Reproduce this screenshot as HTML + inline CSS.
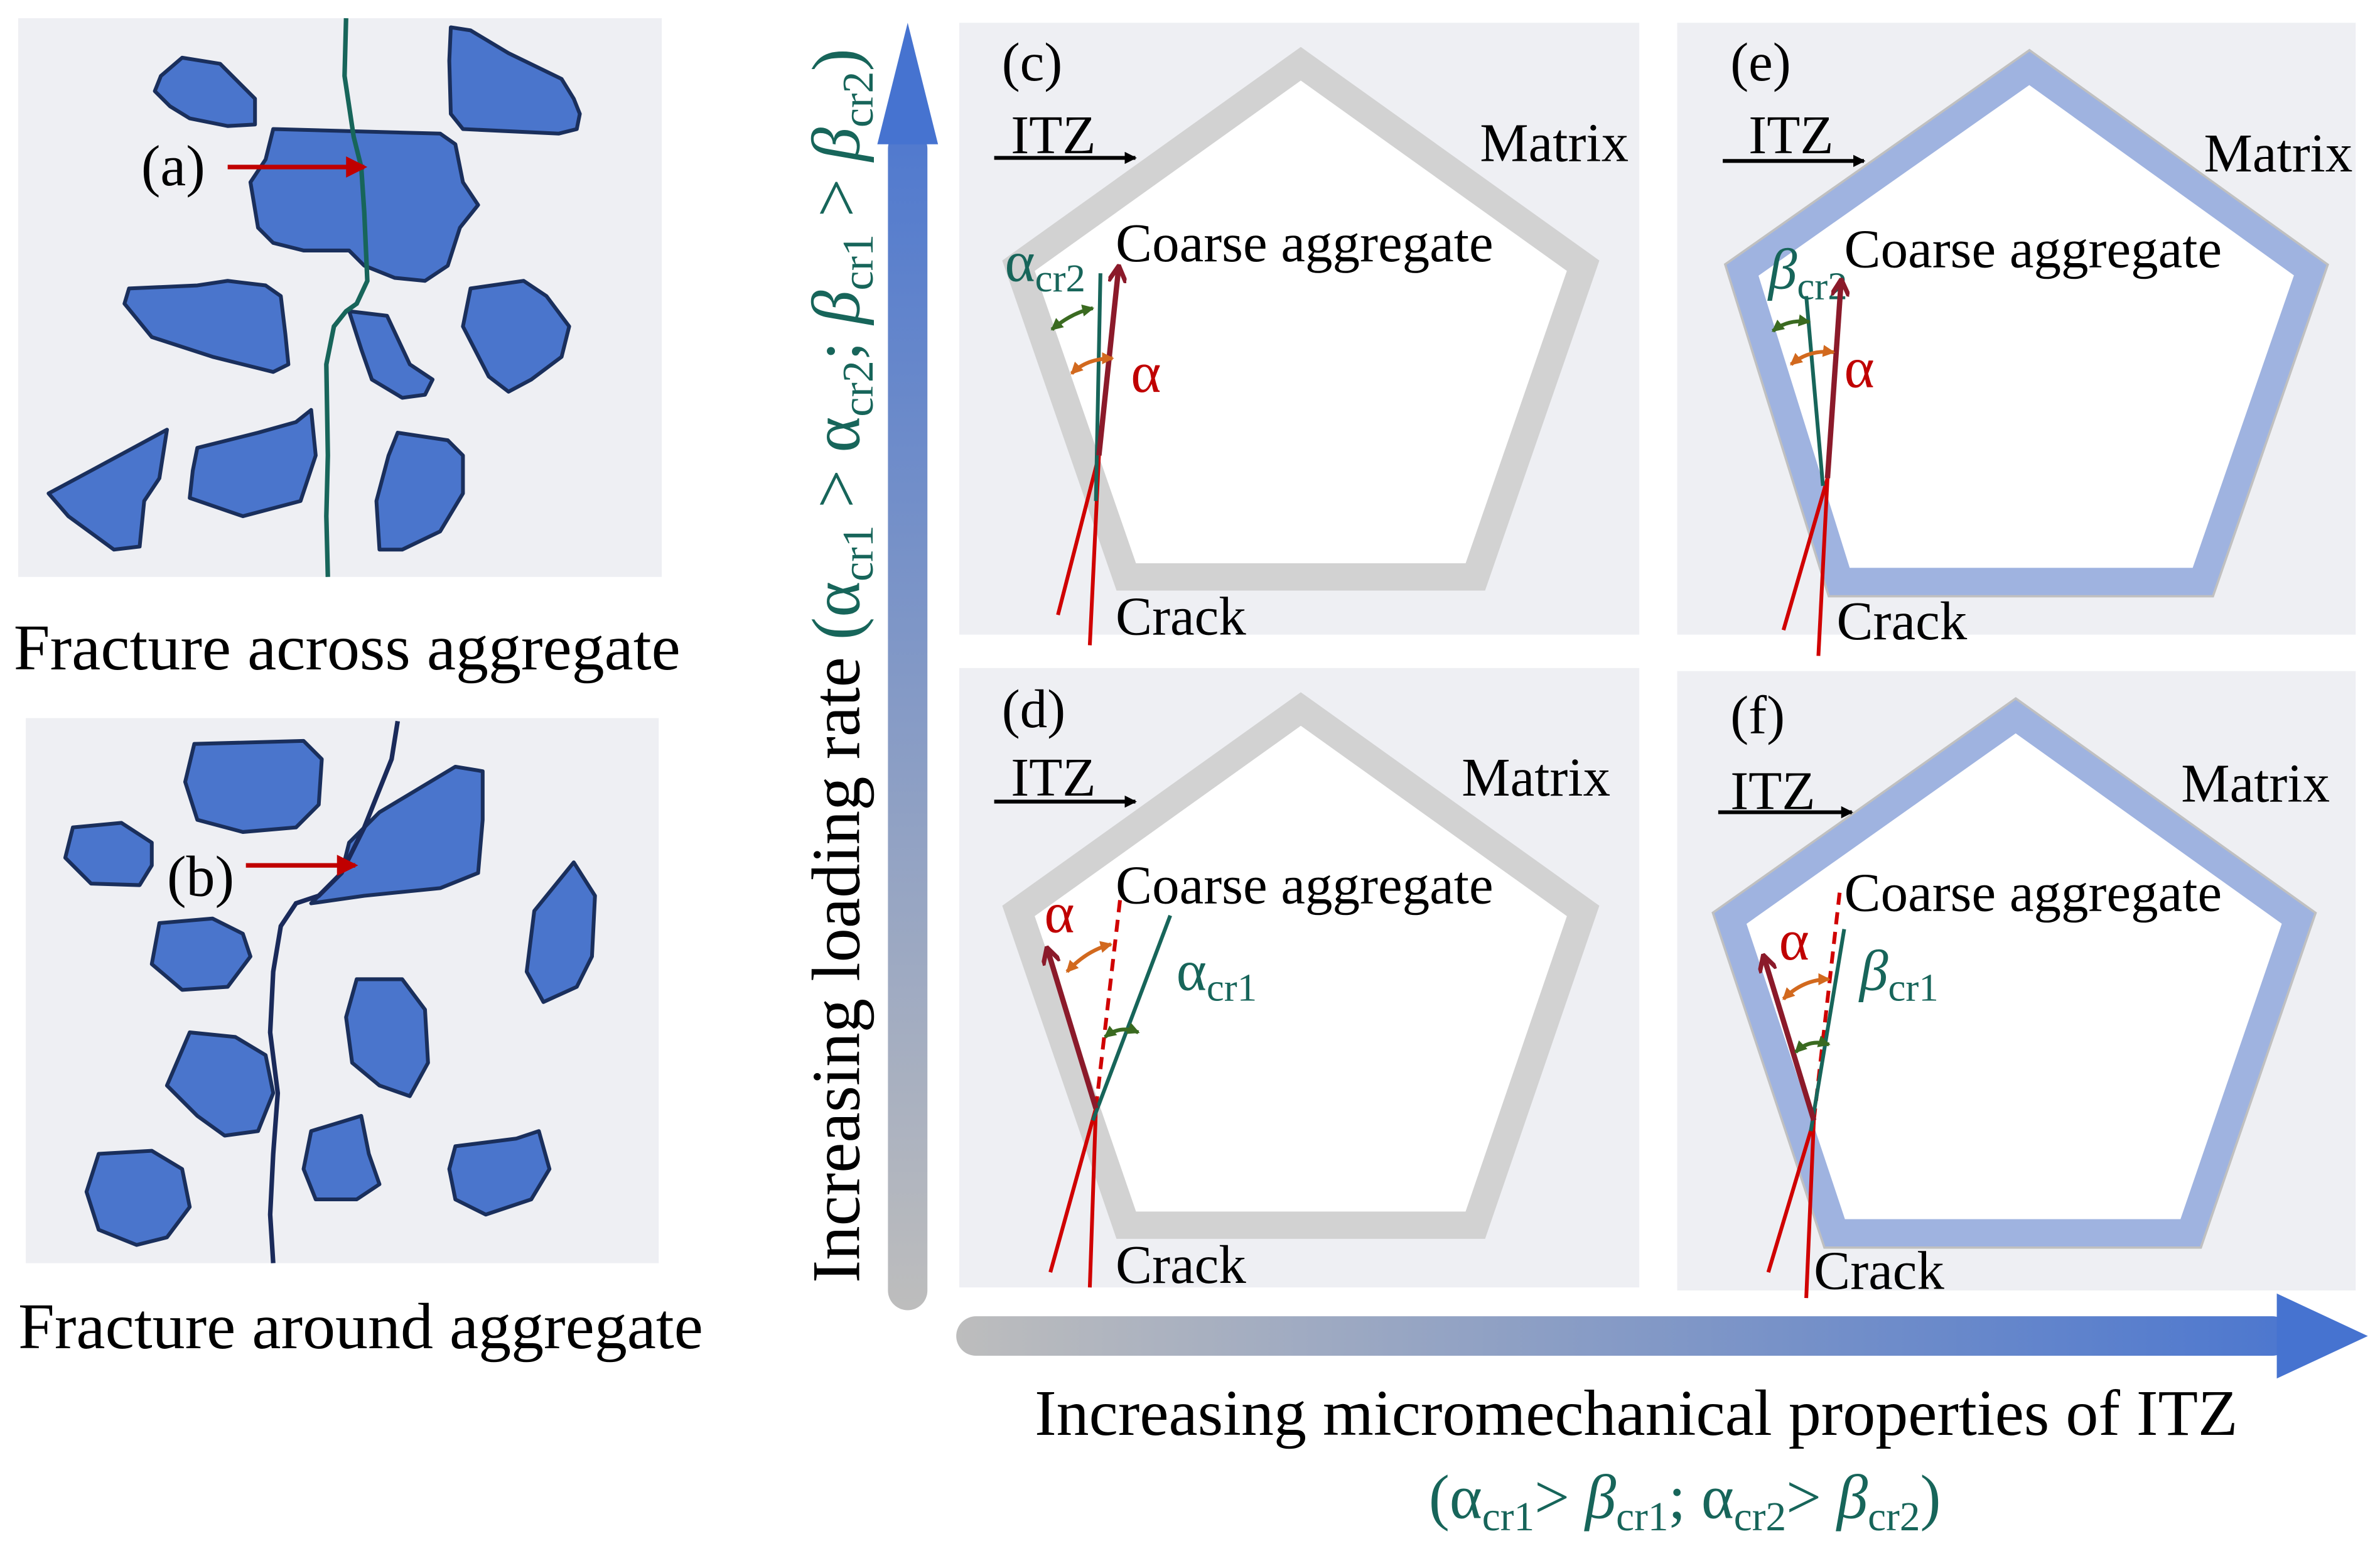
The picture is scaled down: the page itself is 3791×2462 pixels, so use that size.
<!DOCTYPE html>
<html><head><meta charset="utf-8"><style>
html,body{margin:0;padding:0;background:#fff}
svg{display:block}
text{font-family:"Liberation Serif",serif}
</style></head><body>
<svg width="3791" height="2462" viewBox="0 0 1568 1018.3" xmlns="http://www.w3.org/2000/svg">
<defs>
<linearGradient id="gv" gradientUnits="userSpaceOnUse" x1="0" y1="860" x2="0" y2="15"><stop offset="0" stop-color="#bdbdbd"/><stop offset="1" stop-color="#4673d0"/></linearGradient>
<linearGradient id="gh" gradientUnits="userSpaceOnUse" x1="630" y1="0" x2="1560" y2="0"><stop offset="0" stop-color="#bdbdbd"/><stop offset="1" stop-color="#4673d0"/></linearGradient>
<marker id="ab" markerWidth="8" markerHeight="8" refX="7" refY="4" orient="auto" markerUnits="userSpaceOnUse"><path d="M0,0 L8,4 L0,8z" fill="#000"/></marker>
<marker id="ar" markerWidth="14" markerHeight="14" refX="12" refY="7" orient="auto" markerUnits="userSpaceOnUse"><path d="M0,0 L14,7 L0,14z" fill="#c00000"/></marker>
<marker id="adr" markerWidth="12" markerHeight="12" refX="10" refY="6" orient="auto" markerUnits="userSpaceOnUse"><path d="M0,0 L11,6 L0,12" fill="none" stroke="#8b1a2a" stroke-width="3"/></marker>
<marker id="ag" markerWidth="8" markerHeight="8" refX="7" refY="4" orient="auto-start-reverse" markerUnits="userSpaceOnUse"><path d="M0,0 L8,4 L0,8z" fill="#3a6a20"/></marker>
<marker id="ao" markerWidth="8" markerHeight="8" refX="7" refY="4" orient="auto-start-reverse" markerUnits="userSpaceOnUse"><path d="M0,0 L8,4 L0,8z" fill="#d2691e"/></marker>
</defs>

<!-- Panel a -->
<rect x="12" y="12" width="424" height="368" fill="#eeeff3"/>
<g fill="#4a75cc" stroke="#1a2f5c" stroke-width="2.5" stroke-linejoin="round">
<polygon points="120,38 145,42 158,55 168,65 168,82 150,83 125,78 112,70 102,60 106,50"/>
<polygon points="297,18 310,20 335,35 370,52 378,65 382,75 380,85 368,88 305,85 297,75 296,40"/>
<polygon points="180,85 290,88 300,95 305,120 315,135 303,150 295,175 280,185 260,183 240,175 230,165 200,165 180,160 170,150 165,120 175,105"/>
<polygon points="85,190 130,188 150,185 175,188 185,195 188,220 190,240 180,245 140,235 100,222 82,200"/>
<polygon points="230,205 255,208 270,240 285,250 280,260 265,262 245,250 238,230"/>
<polygon points="310,190 345,185 360,195 375,215 370,235 350,250 335,258 322,248 305,215"/>
<polygon points="32,325 60,310 110,283 105,315 95,330 92,360 75,362 45,340"/>
<polygon points="130,295 170,285 195,278 205,270 208,300 198,330 160,340 125,328 127,310"/>
<polygon points="262,285 295,290 305,300 305,325 290,350 265,362 250,362 248,330 256,300"/>
</g>
<path d="M228,12 L227,50 L233,90 L238,110 L240,140 L242,185 L235,200 L228,205 L220,215 L215,240 L216,300 L215,340 L216,380" fill="none" stroke="#17655a" stroke-width="3"/>
<text x="93" y="122" font-size="38">(a)</text>
<line x1="150" y1="110" x2="240" y2="110" stroke="#c00000" stroke-width="3" marker-end="url(#ar)"/>
<text x="9" y="441" font-size="43">Fracture across aggregate</text>

<!-- Panel b -->
<rect x="17" y="473" width="417" height="359" fill="#eeeff3"/>
<g fill="#4a75cc" stroke="#1a2f5c" stroke-width="2.5" stroke-linejoin="round">
<polygon points="128,490 200,488 212,500 210,530 195,545 160,548 130,540 122,515"/>
<polygon points="48,545 80,542 100,555 100,570 92,583 60,582 43,565"/>
<polygon points="230,555 250,535 300,505 318,508 318,540 315,575 290,585 240,590 205,595 225,575"/>
<polygon points="105,608 140,605 160,615 165,630 150,650 120,652 100,635"/>
<polygon points="378,568 392,590 390,630 380,650 358,660 347,640 352,600"/>
<polygon points="235,645 265,645 280,665 282,700 270,722 250,715 232,700 228,670"/>
<polygon points="125,680 155,683 175,695 180,720 170,745 148,748 130,735 110,715"/>
<polygon points="205,745 238,735 243,760 250,780 235,790 208,790 200,770"/>
<polygon points="300,755 340,750 355,745 362,770 350,790 320,800 300,790 296,770"/>
<polygon points="65,760 100,758 120,770 125,795 110,815 90,820 65,810 57,785"/>
</g>
<path d="M262,475 L258,500 L250,520 L240,545 L225,575 L210,590 L195,595 L185,610 L180,640 L178,680 L183,720 L180,760 L178,800 L180,832" fill="none" stroke="#1a2a5a" stroke-width="3"/>
<text x="110" y="590" font-size="38">(b)</text>
<line x1="162" y1="570" x2="234" y2="570" stroke="#c00000" stroke-width="3" marker-end="url(#ar)"/>
<text x="12" y="888" font-size="43">Fracture around aggregate</text>

<!-- Axes arrows -->
<rect x="585" y="85" width="26" height="778" rx="13" fill="url(#gv)"/>
<polygon points="598,15 618,95 578,95" fill="#4673d0"/>
<rect x="630" y="867" width="880" height="26" rx="13" fill="url(#gh)"/>
<polygon points="1560,880 1500,852 1500,908" fill="#4673d0"/>

<text transform="translate(566,845) rotate(-90)" font-size="45">Increasing loading rate <tspan fill="#17655a">(α<tspan font-size="29" dy="9">cr1</tspan><tspan dy="-9"> &gt; α</tspan><tspan font-size="29" dy="9">cr2</tspan><tspan dy="-9">; </tspan><tspan font-style="italic">β</tspan><tspan font-size="29" dy="9">cr1</tspan><tspan dy="-9"> &gt; </tspan><tspan font-style="italic">β</tspan><tspan font-size="29" dy="9">cr2</tspan><tspan dy="-9">)</tspan></tspan></text>
<text x="1078" y="945" font-size="43" text-anchor="middle">Increasing micromechanical properties of ITZ</text>
<text x="1110" y="1000" font-size="41" text-anchor="middle" fill="#17655a">(α<tspan font-size="27" dy="8">cr1</tspan><tspan dy="-8">&gt; </tspan><tspan font-style="italic">β</tspan><tspan font-size="27" dy="8">cr1</tspan><tspan dy="-8">; α</tspan><tspan font-size="27" dy="8">cr2</tspan><tspan dy="-8">&gt; </tspan><tspan font-style="italic">β</tspan><tspan font-size="27" dy="8">cr2</tspan><tspan dy="-8">)</tspan></text>

<!-- Panel c -->
<rect x="632" y="15" width="448" height="403" fill="#eeeff3"/>
<polygon points="857,42 1043,175 972,380 742,380 671,175" fill="#fff" stroke="#d2d2d2" stroke-width="18"/>
<text x="660" y="53" font-size="36">(c)</text>
<text x="666" y="101" font-size="36">ITZ</text>
<line x1="655" y1="104" x2="748" y2="104" stroke="#000" stroke-width="2.5" marker-end="url(#ab)"/>
<text x="975" y="106" font-size="36">Matrix</text>
<text x="735" y="172" font-size="36">Coarse aggregate</text>
<text x="735" y="418" font-size="36">Crack</text>
<text x="662" y="185" font-size="38" fill="#17655a">α<tspan font-size="26" dy="7">cr2</tspan></text>
<text x="745" y="258" font-size="38" fill="#c00000">α</text>
<line x1="724" y1="300" x2="697" y2="405" stroke="#d00000" stroke-width="2.5"/>
<line x1="724" y1="300" x2="718" y2="425" stroke="#d00000" stroke-width="2.5"/>
<line x1="722" y1="330" x2="725" y2="180" stroke="#17655a" stroke-width="2.5"/>
<line x1="724" y1="300" x2="737" y2="176" stroke="#8b1a2a" stroke-width="3.5" marker-end="url(#adr)"/>
<path d="M693,217 Q706,206 720,203" fill="none" stroke="#3a6a20" stroke-width="2.5" marker-start="url(#ag)" marker-end="url(#ag)"/>
<path d="M706,246 Q716,236 733,236" fill="none" stroke="#d2691e" stroke-width="2.5" marker-start="url(#ao)" marker-end="url(#ao)"/>

<!-- Panel e -->
<rect x="1105" y="15" width="447" height="403" fill="#eeeff3"/>
<polygon points="1337,45 1522,178 1451,383 1212,383 1148,178" fill="none" stroke="#c0c0c0" stroke-width="21"/>
<polygon points="1337,45 1522,178 1451,383 1212,383 1148,178" fill="#fff" stroke="#9fb3e0" stroke-width="18"/>
<text x="1140" y="53" font-size="36">(e)</text>
<text x="1152" y="101" font-size="36">ITZ</text>
<line x1="1135" y1="106" x2="1228" y2="106" stroke="#000" stroke-width="2.5" marker-end="url(#ab)"/>
<text x="1452" y="113" font-size="36">Matrix</text>
<text x="1215" y="176" font-size="36">Coarse aggregate</text>
<text x="1210" y="421" font-size="36">Crack</text>
<text x="1165" y="190" font-size="38" fill="#17655a"><tspan font-style="italic">β</tspan><tspan font-size="26" dy="7">cr2</tspan></text>
<text x="1215" y="255" font-size="38" fill="#c00000">α</text>
<line x1="1204" y1="315" x2="1175" y2="415" stroke="#d00000" stroke-width="2.5"/>
<line x1="1204" y1="315" x2="1198" y2="432" stroke="#d00000" stroke-width="2.5"/>
<line x1="1201" y1="320" x2="1190" y2="195" stroke="#17655a" stroke-width="2.5"/>
<line x1="1204" y1="315" x2="1213" y2="185" stroke="#8b1a2a" stroke-width="3.5" marker-end="url(#adr)"/>
<path d="M1168,218 Q1178,210 1192,212" fill="none" stroke="#3a6a20" stroke-width="2.5" marker-start="url(#ag)" marker-end="url(#ag)"/>
<path d="M1180,240 Q1192,230 1208,232" fill="none" stroke="#d2691e" stroke-width="2.5" marker-start="url(#ao)" marker-end="url(#ao)"/>

<!-- Panel d -->
<rect x="632" y="440" width="448" height="408" fill="#eeeff3"/>
<polygon points="857,467 1043,600 972,807 742,807 671,600" fill="#fff" stroke="#d2d2d2" stroke-width="18"/>
<text x="660" y="479" font-size="36">(d)</text>
<text x="666" y="524" font-size="36">ITZ</text>
<line x1="655" y1="528" x2="748" y2="528" stroke="#000" stroke-width="2.5" marker-end="url(#ab)"/>
<text x="963" y="524" font-size="36">Matrix</text>
<text x="735" y="595" font-size="36">Coarse aggregate</text>
<text x="735" y="845" font-size="36">Crack</text>
<text x="775" y="652" font-size="38" fill="#17655a">α<tspan font-size="26" dy="7">cr1</tspan></text>
<text x="688" y="614" font-size="38" fill="#c00000">α</text>
<line x1="722" y1="730" x2="692" y2="838" stroke="#d00000" stroke-width="2.5"/>
<line x1="722" y1="730" x2="718" y2="848" stroke="#d00000" stroke-width="2.5"/>
<line x1="722" y1="730" x2="738" y2="592" stroke="#d00000" stroke-width="2.5" stroke-dasharray="8,5"/>
<line x1="720" y1="738" x2="771" y2="603" stroke="#17655a" stroke-width="2.5"/>
<line x1="722" y1="730" x2="690" y2="625" stroke="#8b1a2a" stroke-width="3.5" marker-end="url(#adr)"/>
<path d="M703,640 Q716,626 732,622" fill="none" stroke="#d2691e" stroke-width="2.5" marker-start="url(#ao)" marker-end="url(#ao)"/>
<path d="M728,683 Q738,675 750,680" fill="none" stroke="#3a6a20" stroke-width="2.5" marker-start="url(#ag)" marker-end="url(#ag)"/>

<!-- Panel f -->
<rect x="1105" y="442" width="447" height="408" fill="#eeeff3"/>
<polygon points="1328,472 1514,605 1443,812 1209,812 1140,605" fill="none" stroke="#c0c0c0" stroke-width="21"/>
<polygon points="1328,472 1514,605 1443,812 1209,812 1140,605" fill="#fff" stroke="#9fb3e0" stroke-width="18"/>
<text x="1140" y="483" font-size="36">(f)</text>
<text x="1140" y="533" font-size="36">ITZ</text>
<line x1="1132" y1="535" x2="1220" y2="535" stroke="#000" stroke-width="2.5" marker-end="url(#ab)"/>
<text x="1437" y="528" font-size="36">Matrix</text>
<text x="1215" y="600" font-size="36">Coarse aggregate</text>
<text x="1195" y="849" font-size="36">Crack</text>
<text x="1225" y="652" font-size="38" fill="#17655a"><tspan font-style="italic">β</tspan><tspan font-size="26" dy="7">cr1</tspan></text>
<text x="1172" y="632" font-size="38" fill="#c00000">α</text>
<line x1="1195" y1="738" x2="1165" y2="838" stroke="#d00000" stroke-width="2.5"/>
<line x1="1195" y1="738" x2="1190" y2="855" stroke="#d00000" stroke-width="2.5"/>
<line x1="1195" y1="738" x2="1212" y2="588" stroke="#d00000" stroke-width="2.5" stroke-dasharray="8,5"/>
<line x1="1193" y1="745" x2="1215" y2="612" stroke="#17655a" stroke-width="2.5"/>
<line x1="1195" y1="738" x2="1162" y2="630" stroke="#8b1a2a" stroke-width="3.5" marker-end="url(#adr)"/>
<path d="M1175,658 Q1188,645 1205,645" fill="none" stroke="#d2691e" stroke-width="2.5" marker-start="url(#ao)" marker-end="url(#ao)"/>
<path d="M1183,693 Q1192,684 1205,688" fill="none" stroke="#3a6a20" stroke-width="2.5" marker-start="url(#ag)" marker-end="url(#ag)"/>
</svg>
</body></html>
